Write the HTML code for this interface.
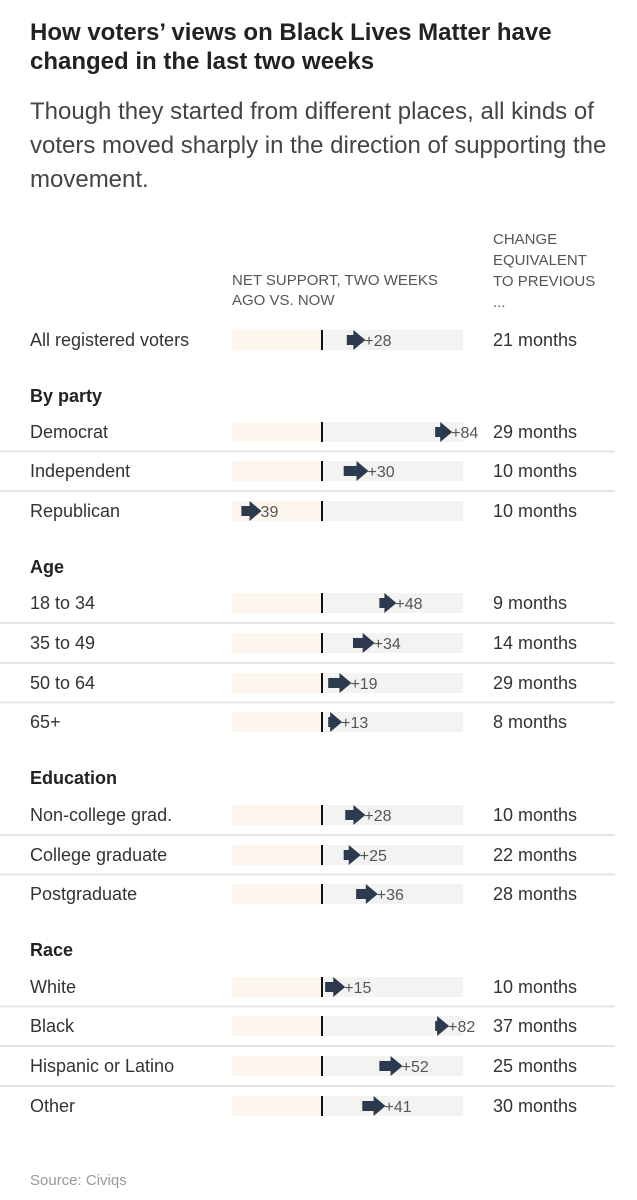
<!DOCTYPE html>
<html><head><meta charset="utf-8"><style>
body{margin:0;background:#fff;width:637px;height:1200px;position:relative;overflow:hidden;font-family:"Liberation Sans",sans-serif;color:#222}
.a{position:absolute;white-space:nowrap}
</style></head><body>
<div class="a" style="left:30px;top:18px;font-size:24px;font-weight:bold;line-height:29px;color:#222">How voters’ views on Black Lives Matter have<br>changed in the last two weeks</div>
<div class="a" style="left:30px;top:95px;font-size:24px;line-height:34px;color:#444">Though they started from different places, all kinds of<br>voters moved sharply in the direction of supporting the<br>movement.</div>
<div class="a" style="left:232px;top:271px;font-size:15px;line-height:20px;color:#555">NET SUPPORT, TWO WEEKS<br>AGO VS. NOW</div>
<div class="a" style="left:493px;top:229px;font-size:15px;line-height:21px;color:#555">CHANGE<br>EQUIVALENT<br>TO PREVIOUS<br>...</div>
<div class="a" style="left:30px;top:1172px;font-size:15px;color:#999">Source: Civiqs</div>
<svg id="chart" width="637" height="1200" style="position:absolute;left:0;top:0" font-family="Liberation Sans, sans-serif"></svg>
<script>
const labels=["All registered voters","Democrat","Independent","Republican","18 to 34","35 to 49","50 to 64","65+","Non-college grad.","College graduate","Postgraduate","White","Black","Hispanic or Latino","Other"];
const startVals=[16,73,14,-52,37,20,4,4,15,14,22,2,73,37,26];
const endVals=[28,84,30,-39,48,34,19,13,28,25,36,15,82,52,41];
const months=["21 months","29 months","10 months","10 months","9 months","14 months","29 months","8 months","10 months","22 months","28 months","10 months","37 months","25 months","30 months"];
const rowY=[340,432,471,511,603,643,683,722,815,855,894,987,1026,1066,1106];
const groups=["By party","Age","Education","Race"];
const groupY=[396,567,778,950];
const NS="http://www.w3.org/2000/svg";
const svg=document.getElementById('chart');
const x=v=>322+v*1.55;
function mk(t,a){const e=document.createElementNS(NS,t);for(const k in a)e.setAttribute(k,a[k]);svg.appendChild(e);return e;}
groups.forEach((g,i)=>{const t=mk('text',{x:30,y:groupY[i]+6,'font-size':18,'font-weight':'bold',fill:'#222'});t.textContent=g;

});
labels.forEach((l,i)=>{const y=rowY[i];
 if(i>0&&rowY[i]-rowY[i-1]<45){const s=mk('line',{x1:0,x2:615,y1:(y+rowY[i-1])/2,y2:(y+rowY[i-1])/2,stroke:'#e4e4e4','stroke-width':2});
 
 }
 const t=mk('text',{x:30,y:y+6,'font-size':18,fill:'#333'});t.textContent=l;
 
 
 const neg=mk('rect',{x:232,y:y-10,width:90,height:20,fill:'#fdf6ee'});
 
 
 const pos=mk('rect',{x:322,y:y-10,width:141,height:20,fill:'#f3f3f2'});
 
 
 const z=mk('line',{x1:322,x2:322,y1:y-10,y2:y+10,stroke:'#111','stroke-width':2});
 
 
 const x0=x(startVals[i]),x1=x(endVals[i]),hb=Math.max(x0,x1-12);
 const p=mk('path',{d:`M${x0},${y-5}L${hb},${y-5}L${hb},${y-10}L${x1},${y}L${hb},${y+10}L${hb},${y+5}L${x0},${y+5}Z`,fill:'#2c3a4f'});
 
 
 const v=mk('text',{x:x1-1,y:y+6,'font-size':16,fill:'#555'});v.textContent=endVals[i]>0?'+'+endVals[i]:String(Math.abs(endVals[i]));
 
 
 const m=mk('text',{x:493,y:y+6,'font-size':18,fill:'#333'});m.textContent=months[i];
 
 
});
</script>
</body></html>
